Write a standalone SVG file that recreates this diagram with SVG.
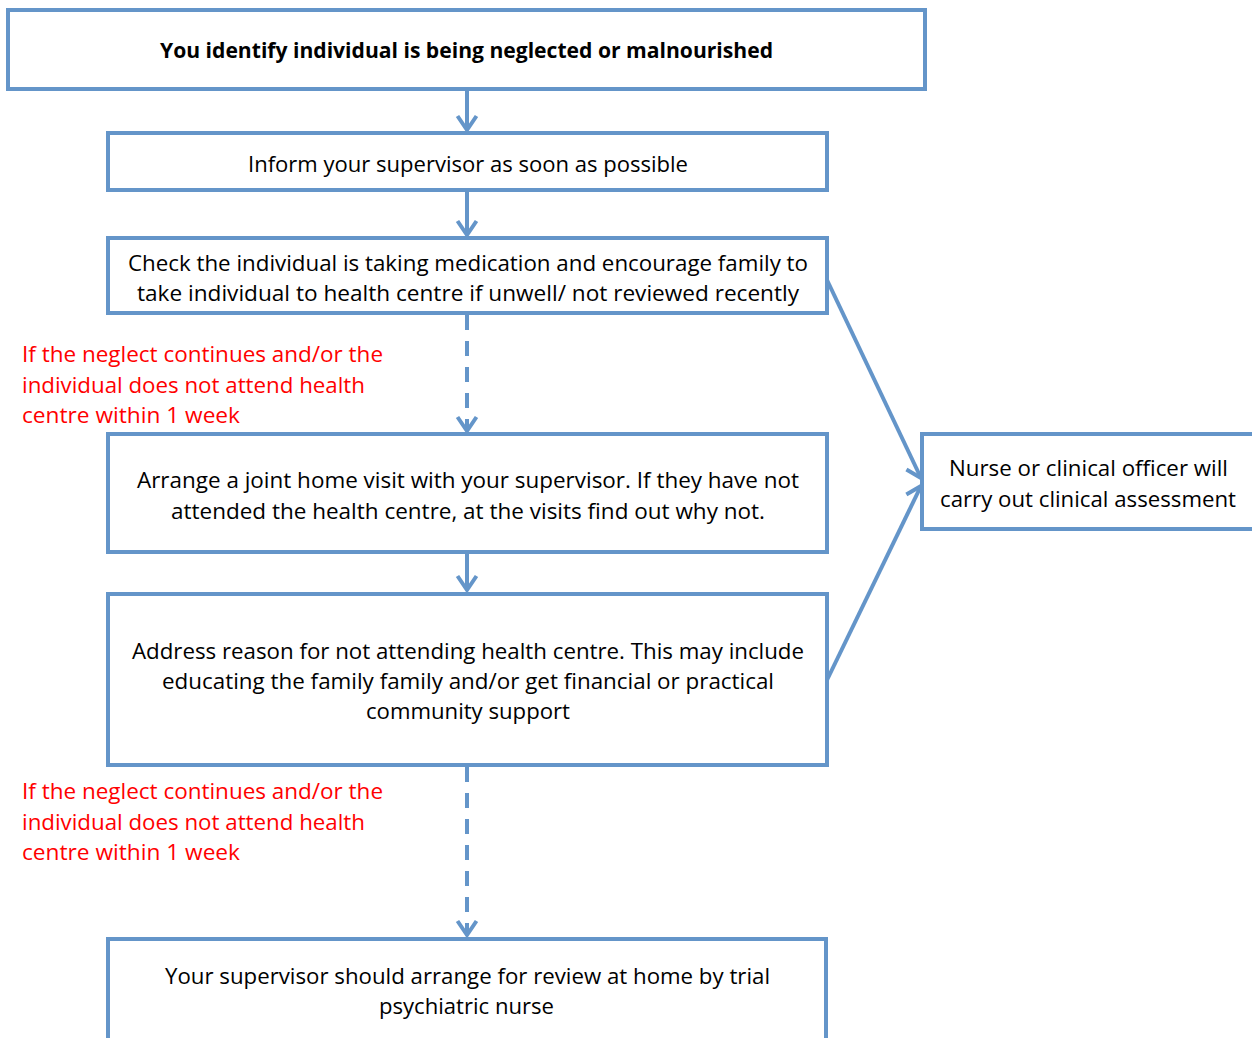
<svg xmlns="http://www.w3.org/2000/svg" width="1252" height="1038" viewBox="0 0 1252 1038">
  <style>
    .box { fill: #ffffff; stroke: #6495c9; stroke-width: 4; }
    .t { font-family: "Open Sans", "Liberation Sans", sans-serif; font-size: 21.5px; fill: #000000; }
    .b { font-weight: bold; }
    .red { fill: #ff0000; }
    .conn { fill: none; stroke: #6495c9; stroke-width: 4; }
    .dash { stroke-dasharray: 15 11; }
  </style>
  <defs>
    <marker id="arrow" viewBox="0 0 24 24" markerWidth="24" markerHeight="24" refX="20" refY="12" orient="auto" markerUnits="userSpaceOnUse">
      <path d="M6,2.5 L20,12 L6,21.5" fill="none" stroke="#6495c9" stroke-width="4" stroke-linejoin="miter"/>
    </marker>
  </defs>
  <rect width="1252" height="1038" fill="#ffffff"/>

  <!-- connectors -->
  <g id="connectors">
    <line class="conn" x1="467" y1="89" x2="467" y2="130" marker-end="url(#arrow)"/>
    <line class="conn" x1="467" y1="190" x2="467" y2="235" marker-end="url(#arrow)"/>
    <line class="conn dash" x1="467" y1="315" x2="467" y2="431" marker-end="url(#arrow)"/>
    <line class="conn" x1="467" y1="552" x2="467" y2="590" marker-end="url(#arrow)"/>
    <line class="conn dash" x1="467" y1="767" x2="467" y2="935" marker-end="url(#arrow)"/>
    <line class="conn" x1="827" y1="280" x2="921" y2="478" marker-end="url(#arrow)"/>
    <line class="conn" x1="827" y1="680" x2="921" y2="486" marker-end="url(#arrow)"/>
  </g>

  <!-- condition labels -->
  <g id="label-1">
    <text class="t red" x="22" y="362" textLength="361" lengthAdjust="spacingAndGlyphs">If the neglect continues and/or the</text>
    <text class="t red" x="22" y="393" textLength="343" lengthAdjust="spacingAndGlyphs">individual does not attend health</text>
    <text class="t red" x="22" y="423" textLength="218" lengthAdjust="spacingAndGlyphs">centre within 1 week</text>
  </g>
  <g id="label-2">
    <text class="t red" x="22" y="799" textLength="361" lengthAdjust="spacingAndGlyphs">If the neglect continues and/or the</text>
    <text class="t red" x="22" y="830" textLength="343" lengthAdjust="spacingAndGlyphs">individual does not attend health</text>
    <text class="t red" x="22" y="860" textLength="218" lengthAdjust="spacingAndGlyphs">centre within 1 week</text>
  </g>

  <!-- nodes -->
  <g id="identify">
    <rect class="box" x="8" y="10" width="917" height="79"/>
    <text class="t b" x="160" y="58" textLength="613" lengthAdjust="spacingAndGlyphs">You identify individual is being neglected or malnourished</text>
  </g>
  <g id="inform">
    <rect class="box" x="108" y="133" width="719" height="57"/>
    <text class="t" x="248" y="172" textLength="440" lengthAdjust="spacingAndGlyphs">Inform your supervisor as soon as possible</text>
  </g>
  <g id="check">
    <rect class="box" x="108" y="238" width="719" height="75"/>
    <text class="t" x="128" y="271" textLength="680" lengthAdjust="spacingAndGlyphs">Check the individual is taking medication and encourage family to</text>
    <text class="t" x="137" y="301" textLength="662" lengthAdjust="spacingAndGlyphs">take individual to health centre if unwell/ not reviewed recently</text>
  </g>
  <g id="home-visit">
    <rect class="box" x="108" y="434" width="719" height="118"/>
    <text class="t" x="137" y="488" textLength="662" lengthAdjust="spacingAndGlyphs">Arrange a joint home visit with your supervisor. If they have not</text>
    <text class="t" x="171" y="519" textLength="594" lengthAdjust="spacingAndGlyphs">attended the health centre, at the visits find out why not.</text>
  </g>
  <g id="address">
    <rect class="box" x="108" y="594" width="719" height="171"/>
    <text class="t" x="132" y="659" textLength="672" lengthAdjust="spacingAndGlyphs">Address reason for not attending health centre. This may include</text>
    <text class="t" x="162" y="689" textLength="612" lengthAdjust="spacingAndGlyphs">educating the family family and/or get financial or practical</text>
    <text class="t" x="366" y="719" textLength="204" lengthAdjust="spacingAndGlyphs">community support</text>
  </g>
  <g id="review">
    <rect class="box" x="108" y="939" width="718" height="110"/>
    <text class="t" x="165" y="984" textLength="605" lengthAdjust="spacingAndGlyphs">Your supervisor should arrange for review at home by trial</text>
    <text class="t" x="379" y="1014" textLength="175" lengthAdjust="spacingAndGlyphs">psychiatric nurse</text>
  </g>
  <g id="assessment">
    <rect class="box" x="922" y="434" width="340" height="95"/>
    <text class="t" x="949" y="476" textLength="279" lengthAdjust="spacingAndGlyphs">Nurse or clinical officer will</text>
    <text class="t" x="940" y="507" textLength="296" lengthAdjust="spacingAndGlyphs">carry out clinical assessment</text>
  </g>
</svg>
